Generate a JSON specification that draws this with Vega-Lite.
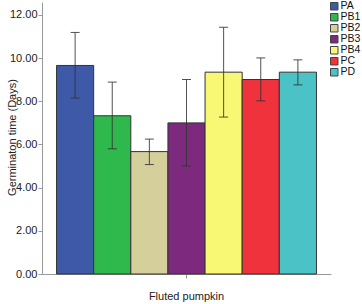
{
  "$schema": "https://vega.github.io/schema/vega-lite/v6.json",
  "width": 289,
  "height": 272,
  "autosize": {"type": "none"},
  "padding": {"left": 42, "top": 2, "right": 31, "bottom": 30},
  "background": "white",
  "config": {
    "font": "Liberation Sans",
    "view": {"stroke": null},
    "axis": {"grid": false, "domainColor": "#999999", "tickColor": "#999999", "labelColor": "#222222", "titleColor": "#222222", "labelFontSize": 11, "titleFontSize": 11, "titleFontWeight": "normal"}
  },
  "data": {"values": [
    {"crop": "Fluted pumpkin", "trt": "PA", "mean": 9.66, "lo": 8.15, "hi": 11.19},
    {"crop": "Fluted pumpkin", "trt": "PB1", "mean": 7.33, "lo": 5.80, "hi": 8.89},
    {"crop": "Fluted pumpkin", "trt": "PB2", "mean": 5.67, "lo": 5.07, "hi": 6.25},
    {"crop": "Fluted pumpkin", "trt": "PB3", "mean": 7.0, "lo": 5.0, "hi": 9.01},
    {"crop": "Fluted pumpkin", "trt": "PB4", "mean": 9.35, "lo": 7.27, "hi": 11.43},
    {"crop": "Fluted pumpkin", "trt": "PC", "mean": 9.01, "lo": 8.02, "hi": 10.01},
    {"crop": "Fluted pumpkin", "trt": "PD", "mean": 9.35, "lo": 8.76, "hi": 9.92}
  ]},
  "encoding": {
    "x": {"field": "crop", "type": "nominal", "title": null,
      "scale": {"paddingInner": 0, "paddingOuter": 0.056},
      "axis": {"labelAngle": 0, "tickSize": 4, "labelPadding": 12, "labelFontSize": 11}},
    "xOffset": {"field": "trt", "type": "nominal", "scale": {"paddingInner": 0, "paddingOuter": 0}}
  },
  "layer": [
    {
      "mark": {"type": "bar", "stroke": "#333333", "strokeWidth": 1},
      "encoding": {
        "y": {"field": "mean", "type": "quantitative", "title": "Germinaton time (Days)",
          "scale": {"domain": [0, 12.6], "nice": false, "zero": true},
          "axis": {"values": [0, 2, 4, 6, 8, 10, 12], "format": ".2f", "tickSize": 4, "labelPadding": 1,
            "titleX": -30, "titleY": 135, "titleBaseline": "middle", "titleAlign": "center", "titleAngle": -90}},
        "color": {"field": "trt", "type": "nominal", "title": null,
          "scale": {"domain": ["PA", "PB1", "PB2", "PB3", "PB4", "PC", "PD"],
            "range": ["#3D59A8", "#2FB84B", "#D4CF9B", "#7D2A7E", "#F9F874", "#EF323B", "#4BC3C6"]},
          "legend": {"orient": "none", "legendX": 287, "legendY": -1, "symbolType": "square", "symbolSize": 56,
            "symbolStrokeColor": "#444444", "symbolStrokeWidth": 1, "symbolOpacity": 1, "labelFontSize": 10.5, "labelColor": "#111111",
            "labelOffset": 1, "rowPadding": -1, "padding": 0}}
      }
    },
    {
      "mark": {"type": "rule", "color": "#333333", "opacity": 0.85, "strokeWidth": 1},
      "encoding": {"y": {"field": "lo", "type": "quantitative"}, "y2": {"field": "hi"}}
    },
    {
      "mark": {"type": "tick", "color": "#333333", "opacity": 0.85, "size": 9, "thickness": 1},
      "encoding": {"y": {"field": "lo", "type": "quantitative"}}
    },
    {
      "mark": {"type": "tick", "color": "#333333", "opacity": 0.85, "size": 9, "thickness": 1},
      "encoding": {"y": {"field": "hi", "type": "quantitative"}}
    }
  ]
}
